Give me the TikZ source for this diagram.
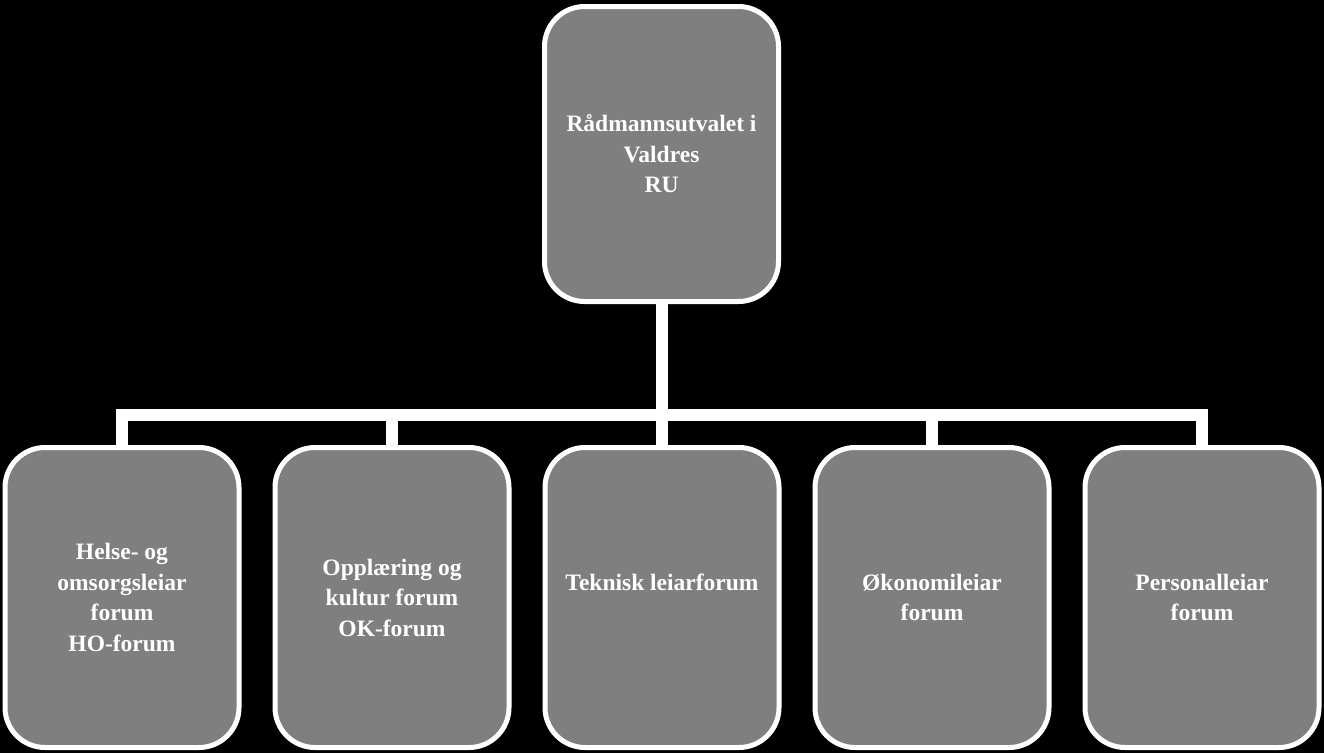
\documentclass[tikz,border=0pt]{standalone}
\usepackage{fontspec}
\setmainfont{Liberation Serif}
\usetikzlibrary{positioning}
\definecolor{orggray}{HTML}{7F7F7F}

\begin{document}
\begin{tikzpicture}[x=1pt, y=-1pt,
  font=\bfseries\fontsize{23.5}{30.5}\selectfont,
  unit/.style={rectangle, rounded corners=40pt, draw=white, line width=5pt, fill=orggray, text=white, align=center, minimum width=234pt, minimum height=300pt, inner sep=0pt, outer sep=0pt},
  link/.style={draw=white, line width=12pt}]
\fill[black] (0,0) rectangle (1324,753);
\node[unit, minimum height=295pt] (ru) at (661.5,154) {Rådmannsutvalet i\\Valdres\\RU};
\node[unit] (ho) at (122,597.5) {Helse- og\\omsorgsleiar\\forum\\HO-forum};
\node[unit, right=36pt of ho] (ok) {Opplæring og\\kultur forum\\OK-forum};
\node[unit, right=36pt of ok] (tek) {Teknisk leiarforum\\\mbox{}};
\node[unit, right=36pt of tek] (oko) {Økonomileiar\\forum};
\node[unit, right=36pt of oko] (pers) {Personalleiar\\forum};
\coordinate (bus) at (661.5,415);
\draw[link] (ru.south) -- (bus);
\foreach \b in {ho,ok,tek,oko,pers}
  \draw[link] (bus) -| (\b.north);
\end{tikzpicture}
\end{document}
